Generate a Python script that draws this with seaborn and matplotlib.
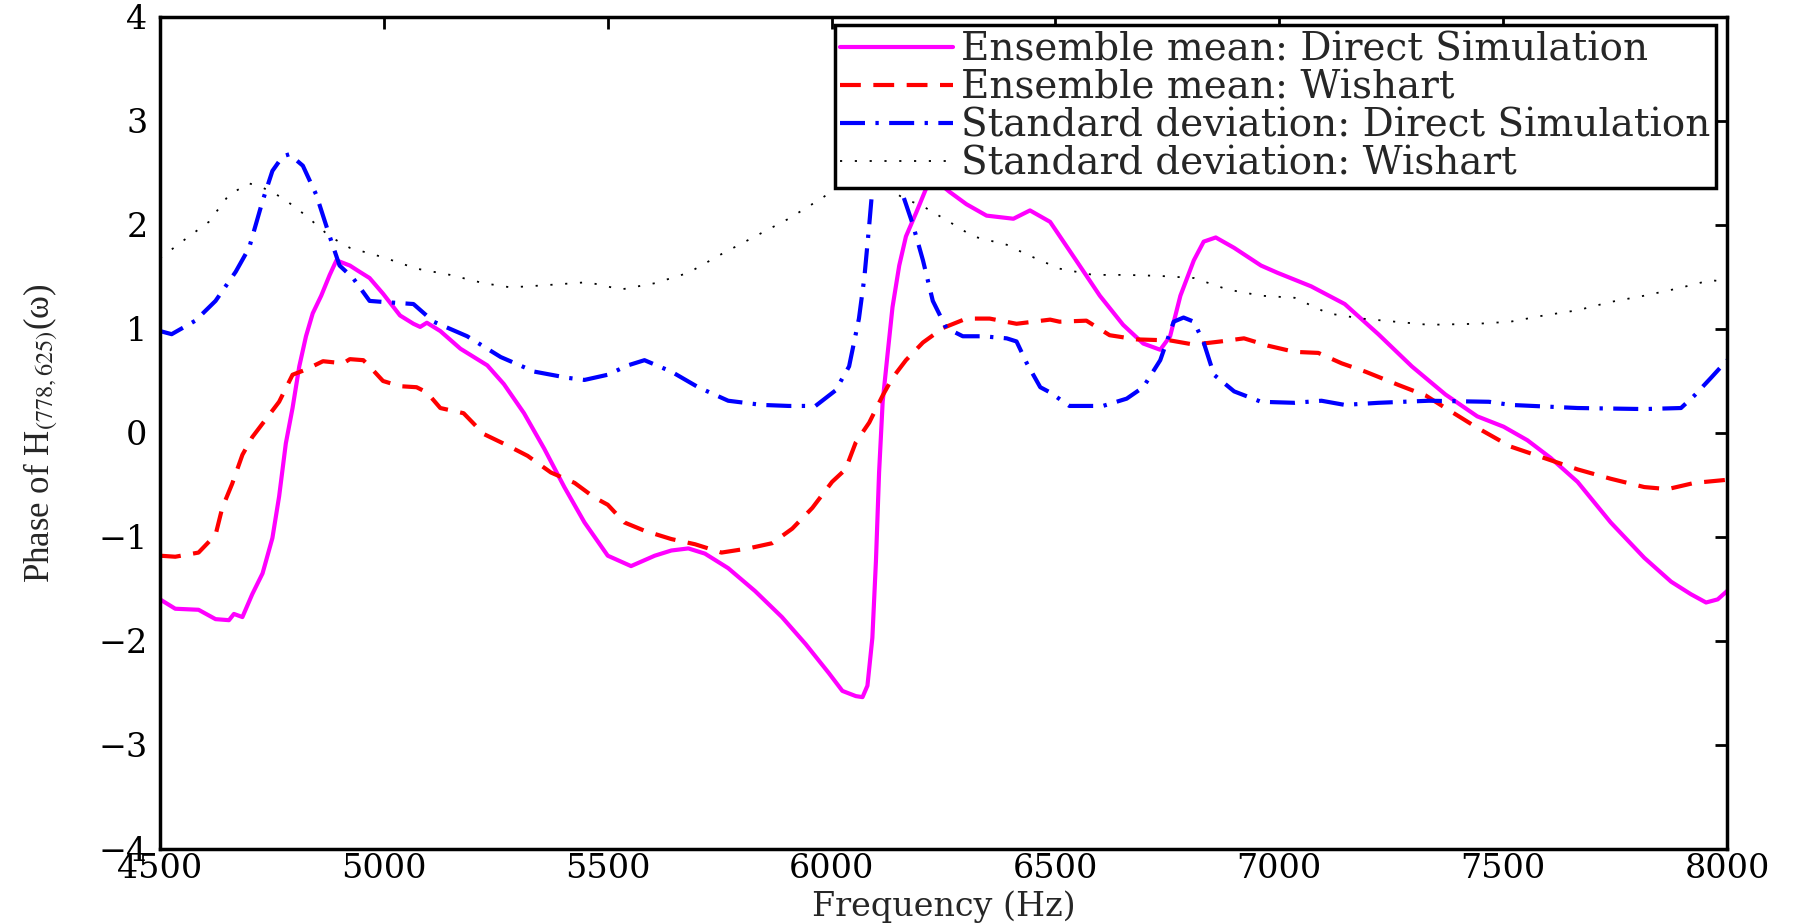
import matplotlib
matplotlib.use("Agg")
import matplotlib.pyplot as plt
import seaborn as sns
import pandas as pd

# Ensemble mean, direct simulation
freq_mean_ds = [4500, 4534, 4586, 4624, 4654, 4665, 4684, 4706, 4729, 4751, 4766, 4781, 4796, 4811,
                4826, 4841, 4860, 4879, 4894, 4924, 4942, 4968, 4998, 5036, 5066, 5081, 5096, 5126,
                5171, 5201, 5231, 5268, 5313, 5358, 5403, 5448, 5500, 5552, 5605, 5642, 5680, 5717,
                5769, 5829, 5889, 5942, 5994, 6024, 6054, 6069, 6080, 6091, 6099, 6106, 6114, 6125,
                6136, 6151, 6166, 6189, 6211, 6235, 6263, 6301, 6346, 6406, 6443, 6488, 6546, 6599,
                6651, 6696, 6734, 6756, 6779, 6809, 6831, 6858, 6899, 6959, 6996, 7071, 7146, 7221,
                7296, 7371, 7442, 7501, 7554, 7606, 7666, 7740, 7815, 7875, 7919, 7953, 7979, 8000]
phase_mean_ds = [-1.60, -1.69, -1.70, -1.79, -1.80, -1.74, -1.77, -1.55, -1.35, -1.01, -0.61, -0.10, 0.24, 0.64,
                 0.93, 1.15, 1.32, 1.52, 1.66, 1.61, 1.56, 1.49, 1.34, 1.13, 1.05, 1.02, 1.06, 0.98,
                 0.81, 0.73, 0.65, 0.47, 0.19, -0.15, -0.52, -0.86, -1.18, -1.28, -1.18, -1.13, -1.11, -1.16,
                 -1.30, -1.52, -1.77, -2.03, -2.31, -2.48, -2.53, -2.54, -2.43, -1.97, -1.23, -0.38, 0.30, 0.76,
                 1.21, 1.61, 1.89, 2.12, 2.35, 2.42, 2.32, 2.20, 2.09, 2.06, 2.14, 2.03, 1.66, 1.32,
                 1.04, 0.86, 0.80, 0.93, 1.32, 1.66, 1.84, 1.88, 1.78, 1.61, 1.54, 1.41, 1.24, 0.95,
                 0.64, 0.37, 0.16, 0.06, -0.07, -0.24, -0.47, -0.86, -1.20, -1.43, -1.55, -1.63, -1.60, -1.52]

# Ensemble mean, Wishart model
freq_mean_w = [4500, 4534, 4586, 4624, 4639, 4661, 4684, 4706, 4736, 4766, 4796, 4826, 4864, 4909,
               4924, 4954, 4968, 4998, 5036, 5073, 5096, 5126, 5178, 5223, 5276, 5321, 5373, 5426,
               5470, 5500, 5537, 5582, 5642, 5695, 5754, 5814, 5867, 5912, 5957, 6001, 6031, 6054,
               6084, 6114, 6136, 6166, 6204, 6249, 6301, 6353, 6413, 6488, 6509, 6569, 6621, 6681,
               6756, 6809, 6869, 6921, 6974, 7034, 7087, 7139, 7192, 7267, 7327, 7371, 7442, 7516,
               7591, 7666, 7740, 7815, 7867, 7927, 8000]
phase_mean_w = [-1.18, -1.19, -1.15, -0.98, -0.72, -0.49, -0.21, -0.04, 0.13, 0.30, 0.56, 0.61, 0.69, 0.67,
                0.71, 0.70, 0.64, 0.50, 0.45, 0.44, 0.39, 0.24, 0.19, -0.01, -0.12, -0.22, -0.38, -0.48,
                -0.62, -0.69, -0.86, -0.94, -1.02, -1.07, -1.15, -1.11, -1.06, -0.92, -0.72, -0.47, -0.35, -0.09,
                0.10, 0.36, 0.53, 0.70, 0.87, 1.01, 1.10, 1.10, 1.05, 1.09, 1.07, 1.08, 0.94, 0.90,
                0.89, 0.85, 0.88, 0.91, 0.84, 0.78, 0.77, 0.67, 0.59, 0.46, 0.36, 0.24, 0.05, -0.13,
                -0.24, -0.35, -0.44, -0.52, -0.54, -0.48, -0.45]

# Standard deviation, direct simulation
freq_std_ds = [4500, 4526, 4579, 4624, 4669, 4699, 4729, 4751, 4774, 4789, 4819, 4849, 4879, 4901,
               4931, 4968, 4998, 5066, 5111, 5186, 5261, 5336, 5411, 5448, 5500, 5545, 5582, 5642,
               5702, 5769, 5844, 5904, 5964, 6009, 6039, 6061, 6073, 6084, 6091, 6105, 6125, 6145,
               6159, 6181, 6204, 6226, 6256, 6293, 6338, 6391, 6413, 6436, 6466, 6488, 6531, 6606,
               6659, 6696, 6734, 6764, 6786, 6809, 6831, 6854, 6899, 6959, 7034, 7094, 7146, 7221,
               7334, 7468, 7516, 7666, 7815, 7897, 7927, 7964, 8000]
phase_std_ds = [0.98, 0.95, 1.08, 1.27, 1.55, 1.78, 2.23, 2.52, 2.66, 2.68, 2.57, 2.29, 1.89, 1.61,
                1.49, 1.27, 1.26, 1.24, 1.07, 0.93, 0.73, 0.59, 0.53, 0.51, 0.56, 0.65, 0.70, 0.59,
                0.44, 0.31, 0.27, 0.26, 0.26, 0.41, 0.64, 1.10, 1.49, 2.00, 2.35, 3.00, 3.30, 2.90,
                2.29, 2.01, 1.66, 1.27, 1.01, 0.93, 0.93, 0.91, 0.88, 0.67, 0.44, 0.39, 0.26, 0.26,
                0.33, 0.44, 0.70, 1.07, 1.11, 1.07, 0.87, 0.56, 0.40, 0.30, 0.29, 0.31, 0.27, 0.29,
                0.31, 0.30, 0.27, 0.24, 0.23, 0.24, 0.36, 0.53, 0.70]

# Standard deviation, Wishart model
freq_std_w = [4500, 4549, 4609, 4654, 4699, 4729, 4774, 4826, 4879, 4924, 4998, 5073, 5148, 5223,
              5283, 5358, 5455, 5530, 5605, 5680, 5754, 5829, 5904, 5979, 6009, 6080, 6159, 6204,
              6263, 6316, 6391, 6434, 6509, 6584, 6659, 6734, 6809, 6884, 6959, 7034, 7109, 7184,
              7259, 7334, 7442, 7516, 7591, 7666, 7740, 7815, 7890, 7964, 8000]
phase_std_w = [1.68, 1.84, 2.03, 2.29, 2.40, 2.36, 2.26, 2.09, 1.89, 1.78, 1.69, 1.58, 1.52, 1.44,
               1.40, 1.42, 1.45, 1.38, 1.44, 1.54, 1.72, 1.89, 2.06, 2.26, 2.35, 2.50, 2.26, 2.18,
               2.03, 1.89, 1.81, 1.72, 1.58, 1.52, 1.52, 1.51, 1.49, 1.38, 1.32, 1.30, 1.15, 1.10,
               1.07, 1.04, 1.05, 1.07, 1.13, 1.18, 1.26, 1.32, 1.39, 1.47, 1.45]

series_labels = ["Ensemble mean: Direct Simulation",
                 "Ensemble mean: Wishart",
                 "Standard deviation: Direct Simulation",
                 "Standard deviation: Wishart"]
x_ticks = [4500, 5000, 5500, 6000, 6500, 7000, 7500, 8000]
y_ticks = [-4, -3, -2, -1, 0, 1, 2, 3, 4]

sns.set_theme(style="white")
plt.rcParams["font.family"] = ["DejaVu Serif"]
plt.rcParams["mathtext.fontset"] = "stix"

fig = plt.figure(figsize=(17.94, 9.23), dpi=100)
ax = fig.add_axes([0.0892, 0.0802, 0.8735, 0.9014])

styles = [
    dict(color="#FF00FF", linewidth=3.0, linestyle="-"),
    dict(color="#FF0000", linewidth=3.0, linestyle=(0, (5, 3))),
    dict(color="#0000FF", linewidth=3.0, linestyle=(0, (6, 2.5, 0.8, 2.5))),
    dict(color="black", linewidth=1.3, linestyle=(0, (1.2, 7))),
]
data = [(freq_mean_ds, phase_mean_ds), (freq_mean_w, phase_mean_w),
        (freq_std_ds, phase_std_ds), (freq_std_w, phase_std_w)]

for (fx, fy), lab, st in zip(data, series_labels, styles):
    df = pd.DataFrame({"freq": fx, "phase": fy})
    sns.lineplot(data=df, x="freq", y="phase", ax=ax, sort=False, estimator=None,
                 label=lab, **st)

ax.set_xlim(4500, 8000)
ax.set_ylim(-4, 4)
ax.set_xticks(x_ticks)
ax.set_yticks(y_ticks)
ax.tick_params(direction="in", length=8.5, width=2.0, top=True, right=True,
               labelsize=24, colors="black")
ax.tick_params(axis="x", pad=3)
ax.tick_params(axis="y", pad=9)
for sp in ax.spines.values():
    sp.set_linewidth(2.5)
    sp.set_color("black")

ax.set_xlabel("Frequency (Hz)", fontsize=24)
ax.xaxis.set_label_coords(0.5, -0.050)
ax.xaxis.label.set_va("top")
ax.set_ylabel("Phase of H$_{(778,625)}$(ω)", fontsize=25,
              family=["Liberation Serif", "DejaVu Serif"])
ax.yaxis.set_label_coords(-0.064, 0.50)

leg = ax.legend(loc="upper right", bbox_to_anchor=(0.993, 0.990), borderaxespad=0,
                prop={"family": "DejaVu Serif", "size": 28}, frameon=True, fancybox=False,
                framealpha=1, edgecolor="black", handlelength=2.9, handletextpad=0.2,
                labelspacing=0.03, borderpad=0.15)
leg.get_frame().set_linewidth(2.5)
leg.set_zorder(5)

fig.savefig("out.png", dpi=100, facecolor="white")
